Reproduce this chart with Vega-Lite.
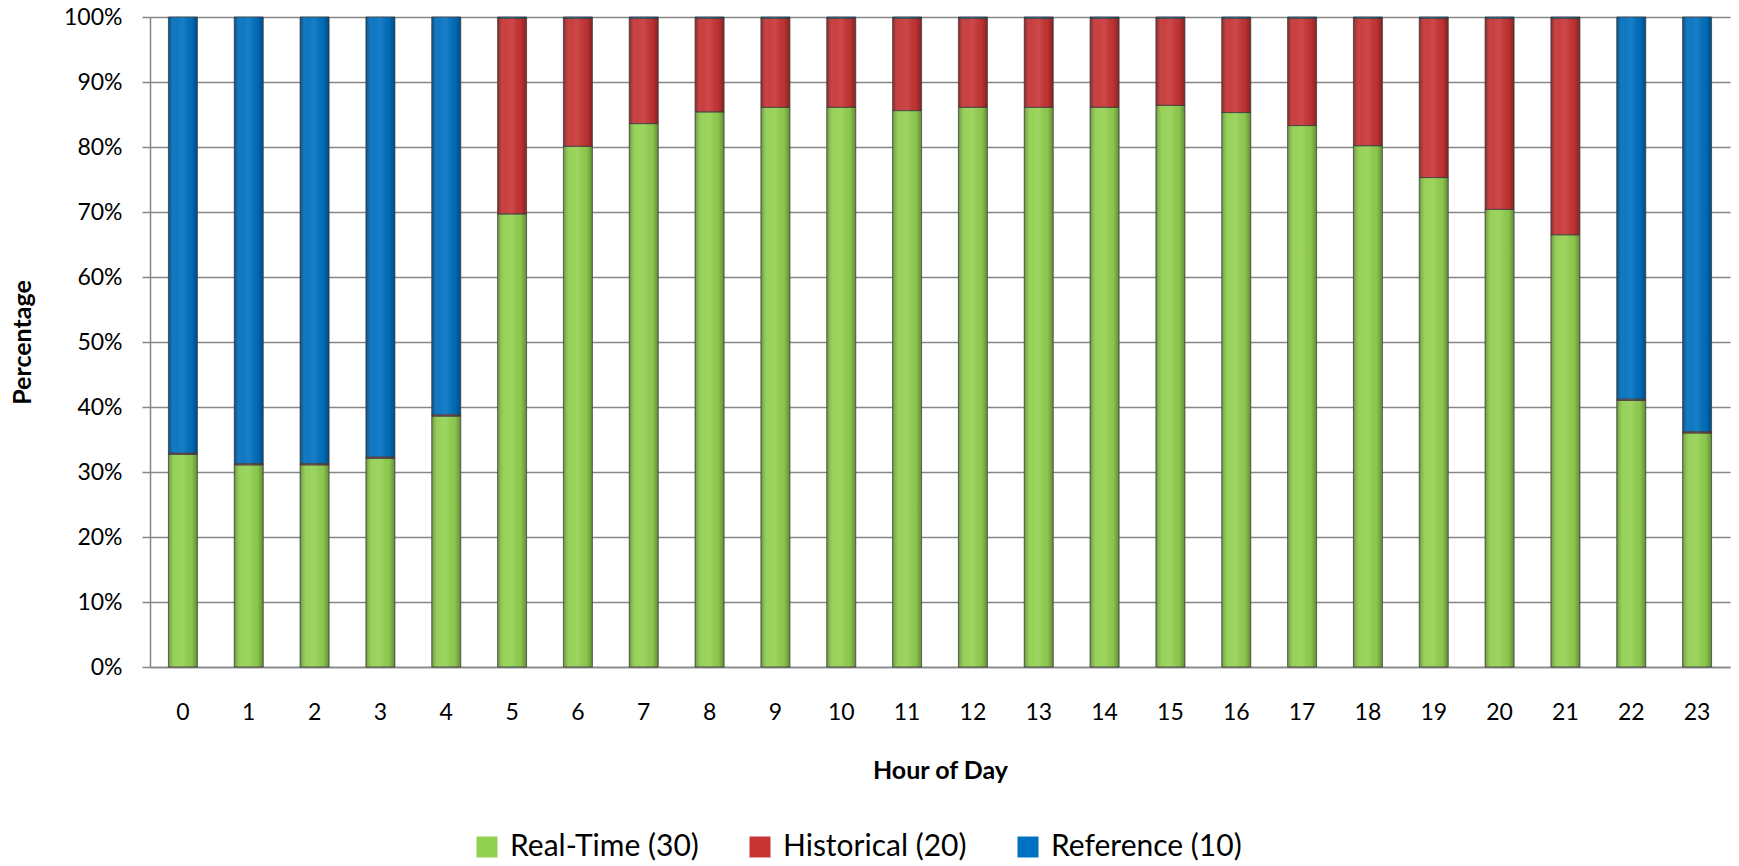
{
  "$schema": "https://vega.github.io/schema/vega-lite/v6.json",
  "autosize": {"type": "none"},
  "padding": {"left": 150, "top": 17, "right": 9, "bottom": 199},
  "width": 1580,
  "height": 650,
  "background": "white",
  "config": {
    "view": {"stroke": null},
    "font": "Lato",
    "axis": {"labelColor": "#000000", "titleColor": "#000000", "labelFont": "Lato", "titleFont": "Lato"},
    "legend": {"labelFont": "Lato"}
  },
  "datasets": {
    "seriesOrder": [
      {"series": "Real-Time (30)", "rank": 1},
      {"series": "Historical (20)", "rank": 2},
      {"series": "Reference (10)", "rank": 3}
    ]
  },
  "data": {
    "values": [
      {"hour": 0, "series": "Real-Time (30)", "value": 32.7}, {"hour": 0, "series": "Historical (20)", "value": 0.2}, {"hour": 0, "series": "Reference (10)", "value": 67.1},
      {"hour": 1, "series": "Real-Time (30)", "value": 31.1}, {"hour": 1, "series": "Historical (20)", "value": 0.2}, {"hour": 1, "series": "Reference (10)", "value": 68.7},
      {"hour": 2, "series": "Real-Time (30)", "value": 31.1}, {"hour": 2, "series": "Historical (20)", "value": 0.2}, {"hour": 2, "series": "Reference (10)", "value": 68.7},
      {"hour": 3, "series": "Real-Time (30)", "value": 32.1}, {"hour": 3, "series": "Historical (20)", "value": 0.2}, {"hour": 3, "series": "Reference (10)", "value": 67.7},
      {"hour": 4, "series": "Real-Time (30)", "value": 38.6}, {"hour": 4, "series": "Historical (20)", "value": 0.2}, {"hour": 4, "series": "Reference (10)", "value": 61.2},
      {"hour": 5, "series": "Real-Time (30)", "value": 69.7}, {"hour": 5, "series": "Historical (20)", "value": 30.1}, {"hour": 5, "series": "Reference (10)", "value": 0.2},
      {"hour": 6, "series": "Real-Time (30)", "value": 80.1}, {"hour": 6, "series": "Historical (20)", "value": 19.7}, {"hour": 6, "series": "Reference (10)", "value": 0.2},
      {"hour": 7, "series": "Real-Time (30)", "value": 83.6}, {"hour": 7, "series": "Historical (20)", "value": 16.2}, {"hour": 7, "series": "Reference (10)", "value": 0.2},
      {"hour": 8, "series": "Real-Time (30)", "value": 85.4}, {"hour": 8, "series": "Historical (20)", "value": 14.4}, {"hour": 8, "series": "Reference (10)", "value": 0.2},
      {"hour": 9, "series": "Real-Time (30)", "value": 86.1}, {"hour": 9, "series": "Historical (20)", "value": 13.7}, {"hour": 9, "series": "Reference (10)", "value": 0.2},
      {"hour": 10, "series": "Real-Time (30)", "value": 86.1}, {"hour": 10, "series": "Historical (20)", "value": 13.7}, {"hour": 10, "series": "Reference (10)", "value": 0.2},
      {"hour": 11, "series": "Real-Time (30)", "value": 85.6}, {"hour": 11, "series": "Historical (20)", "value": 14.2}, {"hour": 11, "series": "Reference (10)", "value": 0.2},
      {"hour": 12, "series": "Real-Time (30)", "value": 86.1}, {"hour": 12, "series": "Historical (20)", "value": 13.7}, {"hour": 12, "series": "Reference (10)", "value": 0.2},
      {"hour": 13, "series": "Real-Time (30)", "value": 86.1}, {"hour": 13, "series": "Historical (20)", "value": 13.7}, {"hour": 13, "series": "Reference (10)", "value": 0.2},
      {"hour": 14, "series": "Real-Time (30)", "value": 86.1}, {"hour": 14, "series": "Historical (20)", "value": 13.7}, {"hour": 14, "series": "Reference (10)", "value": 0.2},
      {"hour": 15, "series": "Real-Time (30)", "value": 86.4}, {"hour": 15, "series": "Historical (20)", "value": 13.4}, {"hour": 15, "series": "Reference (10)", "value": 0.2},
      {"hour": 16, "series": "Real-Time (30)", "value": 85.3}, {"hour": 16, "series": "Historical (20)", "value": 14.5}, {"hour": 16, "series": "Reference (10)", "value": 0.2},
      {"hour": 17, "series": "Real-Time (30)", "value": 83.3}, {"hour": 17, "series": "Historical (20)", "value": 16.5}, {"hour": 17, "series": "Reference (10)", "value": 0.2},
      {"hour": 18, "series": "Real-Time (30)", "value": 80.2}, {"hour": 18, "series": "Historical (20)", "value": 19.6}, {"hour": 18, "series": "Reference (10)", "value": 0.2},
      {"hour": 19, "series": "Real-Time (30)", "value": 75.3}, {"hour": 19, "series": "Historical (20)", "value": 24.5}, {"hour": 19, "series": "Reference (10)", "value": 0.2},
      {"hour": 20, "series": "Real-Time (30)", "value": 70.4}, {"hour": 20, "series": "Historical (20)", "value": 29.4}, {"hour": 20, "series": "Reference (10)", "value": 0.2},
      {"hour": 21, "series": "Real-Time (30)", "value": 66.5}, {"hour": 21, "series": "Historical (20)", "value": 33.3}, {"hour": 21, "series": "Reference (10)", "value": 0.2},
      {"hour": 22, "series": "Real-Time (30)", "value": 41.0}, {"hour": 22, "series": "Historical (20)", "value": 0.2}, {"hour": 22, "series": "Reference (10)", "value": 58.8},
      {"hour": 23, "series": "Real-Time (30)", "value": 36.0}, {"hour": 23, "series": "Historical (20)", "value": 0.2}, {"hour": 23, "series": "Reference (10)", "value": 63.8}
    ]
  },
  "transform": [
    {"lookup": "series", "from": {"data": {"name": "seriesOrder"}, "key": "series", "fields": ["rank"]}}
  ],
  "encoding": {
    "x": {
      "field": "hour",
      "type": "ordinal",
      "scale": {"paddingInner": 0.56, "paddingOuter": 0.28},
      "axis": {
        "title": "Hour of Day",
        "labelAngle": 0,
        "labelFontSize": 23,
        "labelPadding": 34,
        "ticks": false,
        "domainColor": "#868686",
        "domainWidth": 1.5,
        "titleFontSize": 25,
        "titleFontWeight": "bold",
        "titleBaseline": "middle",
        "titleY": 103
      }
    },
    "y": {
      "field": "value",
      "type": "quantitative",
      "stack": "normalize",
      "scale": {"domain": [0, 1]},
      "axis": {
        "title": "Percentage",
        "format": ".0%",
        "values": [0, 0.1, 0.2, 0.3, 0.4, 0.5, 0.6, 0.7, 0.8, 0.9, 1],
        "labelFontSize": 23,
        "labelPadding": 20,
        "tickSize": 8,
        "tickColor": "#868686",
        "tickWidth": 1.5,
        "domainColor": "#868686",
        "domainWidth": 1.5,
        "grid": true,
        "gridColor": "#868686",
        "gridWidth": 1.5,
        "titleFontSize": 25,
        "titleFontWeight": "bold",
        "titleAngle": -90,
        "titleAlign": "center",
        "titleBaseline": "middle",
        "titleX": -128,
        "titleY": 325
      }
    },
    "order": {"field": "rank", "type": "quantitative"}
  },
  "layer": [
    {
      "mark": {"type": "bar", "stroke": "#4d4d4d", "strokeOpacity": 0.45, "strokeWidth": 1},
      "encoding": {
        "color": {
          "field": "series",
          "type": "nominal",
          "sort": ["Real-Time (30)", "Historical (20)", "Reference (10)"],
          "scale": {
            "domain": ["Real-Time (30)", "Historical (20)", "Reference (10)"],
            "range": ["#92D050", "#C73434", "#0070C0"]
          },
          "legend": {
            "title": null,
            "orient": "none",
            "direction": "horizontal",
            "legendX": 322,
            "legendY": 815,
            "symbolType": "square",
            "symbolSize": 440,
            "symbolStrokeWidth": 0,
            "labelFontSize": 30,
            "labelLimit": 0,
            "labelColor": "#000000",
            "labelOffset": 8,
            "columnPadding": 46
          }
        }
      }
    },
    {
      "mark": {
        "type": "bar",
        "fill": {
          "gradient": "linear",
          "x1": 0, "x2": 1, "y1": 0, "y2": 0,
          "stops": [
            {"offset": 0, "color": "rgba(0,0,0,0.3)"},
            {"offset": 0.25, "color": "rgba(255,255,255,0.05)"},
            {"offset": 0.5, "color": "rgba(255,255,255,0.1)"},
            {"offset": 0.8, "color": "rgba(0,0,0,0.05)"},
            {"offset": 1, "color": "rgba(0,0,0,0.32)"}
          ]
        },
        "stroke": "#3d3d3d",
        "strokeOpacity": 0.5,
        "strokeWidth": 1
      },
      "encoding": {
        "detail": {"field": "series", "type": "nominal"}
      }
    }
  ]
}
